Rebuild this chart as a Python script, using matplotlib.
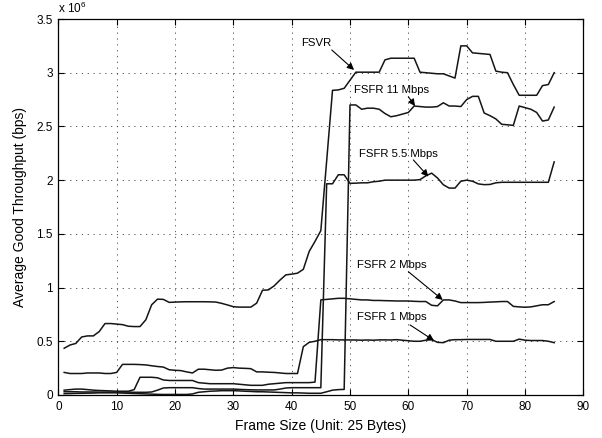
import matplotlib
matplotlib.use("Agg")
import matplotlib.pyplot as plt
import numpy as np

plt.rcParams['font.family'] = ['Liberation Sans', 'DejaVu Sans']
plt.rcParams['mathtext.fontset'] = 'custom'
plt.rcParams['mathtext.rm'] = 'Liberation Sans'

frame_size = list(range(1, 86))

fsvr = [0.435, 0.465, 0.48, 0.54, 0.55, 0.55, 0.59, 0.665, 0.665, 0.66,
        0.655, 0.64, 0.637, 0.637, 0.70, 0.84, 0.892, 0.89, 0.862, 0.865,
        0.867, 0.868, 0.868, 0.868, 0.868, 0.867, 0.865, 0.853, 0.838, 0.822,
        0.818, 0.818, 0.818, 0.855, 0.975, 0.978, 1.016, 1.07, 1.118, 1.125,
        1.134, 1.17, 1.336, 1.43, 1.53, 2.18, 2.836, 2.84, 2.855, 2.93,
        3.005, 3.005, 3.005, 3.005, 3.005, 3.12, 3.135, 3.135, 3.135, 3.135,
        3.135, 3.005, 3.0, 2.995, 2.99, 2.99, 2.97, 2.95, 3.25, 3.25,
        3.185, 3.18, 3.175, 3.17, 3.015, 3.005, 3.0, 2.89, 2.79, 2.79,
        2.79, 2.79, 2.88, 2.89, 3.0]

fsfr_11 = [0.012, 0.013, 0.015, 0.016, 0.017, 0.018, 0.02, 0.02, 0.02, 0.02,
           0.018, 0.016, 0.014, 0.012, 0.01, 0.008, 0.006, 0.005, 0.005, 0.005,
           0.005, 0.005, 0.01, 0.025, 0.03, 0.035, 0.037, 0.04, 0.04, 0.04,
           0.038, 0.035, 0.033, 0.03, 0.03, 0.028, 0.026, 0.024, 0.022, 0.02,
           0.02, 0.018, 0.016, 0.016, 0.016, 0.03, 0.045, 0.05, 0.052, 2.70,
           2.70, 2.66, 2.67, 2.67, 2.66, 2.62, 2.59, 2.60, 2.615, 2.63,
           2.69, 2.685, 2.68, 2.68, 2.685, 2.72, 2.69, 2.69, 2.685, 2.75,
           2.78, 2.78, 2.625, 2.60, 2.57, 2.52, 2.515, 2.51, 2.69, 2.675,
           2.66, 2.63, 2.55, 2.56, 2.68]

fsfr_55 = [0.03, 0.03, 0.03, 0.028, 0.028, 0.028, 0.027, 0.027, 0.027, 0.027,
           0.027, 0.027, 0.025, 0.025, 0.025, 0.028, 0.045, 0.065, 0.068, 0.068,
           0.068, 0.068, 0.068, 0.06, 0.055, 0.055, 0.055, 0.055, 0.055, 0.055,
           0.052, 0.05, 0.048, 0.047, 0.047, 0.047, 0.047, 0.055, 0.065, 0.068,
           0.068, 0.068, 0.068, 0.068, 0.068, 1.966, 1.966, 2.05, 2.05, 1.97,
           1.972, 1.975, 1.975, 1.985, 1.99, 2.0, 2.0, 2.0, 2.0, 2.0,
           2.0, 2.005, 2.04, 2.065, 2.02, 1.957, 1.926, 1.926, 1.99, 2.0,
           1.99, 1.965, 1.958, 1.96, 1.975, 1.98, 1.98, 1.98, 1.98, 1.98,
           1.98, 1.98, 1.98, 1.98, 2.17]

fsfr_2 = [0.045, 0.05, 0.055, 0.055, 0.05, 0.045, 0.042, 0.04, 0.038, 0.035,
          0.035, 0.035, 0.05, 0.165, 0.165, 0.165, 0.16, 0.14, 0.135, 0.135,
          0.135, 0.135, 0.135, 0.115, 0.11, 0.105, 0.105, 0.105, 0.105, 0.105,
          0.10, 0.095, 0.09, 0.09, 0.09, 0.10, 0.105, 0.11, 0.115, 0.115,
          0.115, 0.115, 0.115, 0.12, 0.885, 0.89, 0.895, 0.90, 0.90, 0.895,
          0.89, 0.885, 0.885, 0.88, 0.88, 0.878, 0.877, 0.875, 0.875, 0.875,
          0.872, 0.87, 0.87, 0.835, 0.83, 0.885, 0.885, 0.875, 0.86, 0.86,
          0.86, 0.86, 0.862, 0.865, 0.867, 0.87, 0.87, 0.825, 0.82, 0.817,
          0.82, 0.83, 0.84, 0.84, 0.87]

fsfr_1 = [0.21, 0.20, 0.20, 0.20, 0.205, 0.205, 0.205, 0.20, 0.20, 0.21,
          0.285, 0.285, 0.285, 0.283, 0.28, 0.272, 0.265, 0.26, 0.235, 0.23,
          0.227, 0.215, 0.205, 0.24, 0.24, 0.235, 0.23, 0.232, 0.25, 0.255,
          0.25, 0.248, 0.245, 0.215, 0.215, 0.212, 0.21, 0.205, 0.20, 0.20,
          0.20, 0.45, 0.49, 0.50, 0.515, 0.515, 0.515, 0.513, 0.513, 0.512,
          0.512, 0.51, 0.512, 0.51, 0.513, 0.513, 0.512, 0.515, 0.51, 0.505,
          0.50, 0.50, 0.51, 0.515, 0.49, 0.487, 0.51, 0.515, 0.515, 0.517,
          0.517, 0.517, 0.517, 0.517, 0.50, 0.50, 0.50, 0.50, 0.52, 0.51,
          0.507, 0.507, 0.507, 0.50, 0.487]

xticks = [0, 10, 20, 30, 40, 50, 60, 70, 80, 90]
yticks = [0, 0.5, 1, 1.5, 2, 2.5, 3, 3.5]
ytick_labels = ['0', '0.5', '1', '1.5', '2', '2.5', '3', '3.5']

fig = plt.figure(figsize=(6.02, 4.38), dpi=100)
ax = fig.add_axes([0.0969, 0.0982, 0.8721, 0.8584])

line_kw = dict(color='#151515', lw=1.1)
for series in (fsvr, fsfr_11, fsfr_55, fsfr_2, fsfr_1):
    ax.plot(frame_size, series, **line_kw)

ax.set_xlim(0, 90)
ax.set_ylim(0, 3.5)
ax.set_xticks(xticks)
ax.set_yticks(yticks)
ax.set_yticklabels(ytick_labels)
ax.tick_params(direction='in', top=True, right=True, length=4, width=0.8,
               labelsize=8.5, pad=4)
ax.grid(True, color='0.25', lw=0.6, linestyle=(0, (1.5, 5.5)))
for s in ax.spines.values():
    s.set_linewidth(0.9)

ax.set_xlabel('Frame Size (Unit: 25 Bytes)', fontsize=10, labelpad=5)
ax.set_ylabel('Average Good Throughput (bps)', fontsize=10, labelpad=7)
ax.text(0.0, 1.008, r'x 10$^{6}$', transform=ax.transAxes, ha='left',
        va='bottom', fontsize=8.5)

arrow_kw = dict(arrowstyle='-|>', color='black', lw=0.8, mutation_scale=10,
                shrinkA=0, shrinkB=0)
labels = [
    ('FSVR', (44.18, 3.277), 'center', (46.87, 3.212), (50.69, 3.026)),
    ('FSFR 11 Mbps', (50.7, 2.835), 'left', (60.0, 2.777), (61.15, 2.69)),
    ('FSFR 5.5 Mbps', (51.6, 2.247), 'left', (60.86, 2.188), (63.43, 2.033)),
    ('FSFR 2 Mbps', (51.26, 1.213), 'left', (60.0, 1.148), (65.9, 0.885)),
    ('FSFR 1 Mbps', (51.26, 0.726), 'left', (60.3, 0.652), (64.4, 0.506)),
]
for text, pos, ha, tail, tip in labels:
    ax.text(pos[0], pos[1], text, ha=ha, va='center', fontsize=8.2)
    ax.annotate('', xy=tip, xytext=tail, arrowprops=arrow_kw)

fig.savefig('out.png', dpi=100)
